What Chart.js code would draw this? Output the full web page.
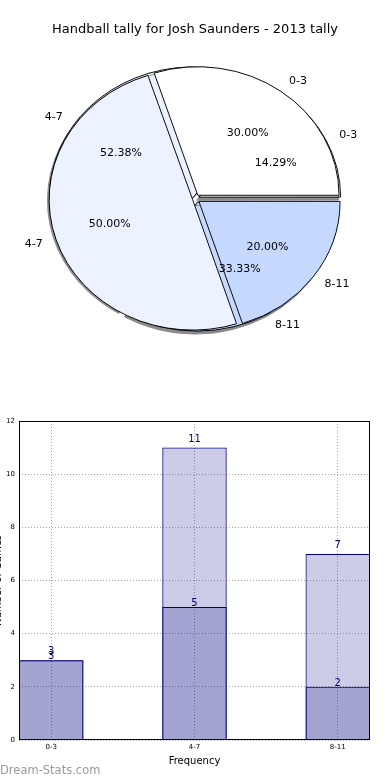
<!DOCTYPE html>
<html>
<head>
<meta charset="utf-8">
<script src="https://cdn.jsdelivr.net/npm/chart.js@4.4.1/dist/chart.umd.min.js"></script>
<style>
  html, body { margin: 0; padding: 0; background: #fff; }
  body { width: 390px; height: 780px; position: relative; overflow: hidden; }
  canvas { position: absolute; }
  #pieBack, #pieFront { left: 0; top: 0; }
  #barChart { left: -12px; top: 400px; }
</style>
</head>
<body>
<canvas id="pieBack" width="390" height="400"></canvas>
<canvas id="pieFront" width="390" height="400"></canvas>
<canvas id="barChart" width="402" height="380"></canvas>
<script>
const categories = ['0-3', '4-7', '8-11'];
const tally2013 = [3, 5, 2];      // front pie + dark bars
const allTally = [3, 11, 7];      // back pie + light bars
const yTicks = [0, 2, 4, 6, 8, 10, 12];

const pieColors = ['#ffffff', '#ecf2ff', '#c5d9ff'];
const Y_SQUISH = 0.91;   // the original pie is a little flattened
const EXPLODE = 5;       // px each wedge is pulled out
const BAR_W = 0.45;
const FONT = 'DejaVu Sans';

// draw the wedges flipped (counter-clockwise like the original) and flattened
function squish(withShadow) {
    return {
        id: 'squish',
        beforeDatasetsDraw(chart) {
            const ctx = chart.ctx;
            const arc = chart.getDatasetMeta(0).data[0];
            ctx.save();
            ctx.translate(arc.x, arc.y);
            ctx.scale(1, -Y_SQUISH);
            ctx.translate(-arc.x, -arc.y);
            if (withShadow) {
                ctx.shadowColor = '#8a8a8a';
                ctx.shadowOffsetX = -2;
                ctx.shadowOffsetY = 3;
                ctx.shadowBlur = 0;
            }
        },
        afterDatasetsDraw(chart) {
            chart.ctx.restore();
        }
    };
}

// chart.js moves an arc by offset/4 * (2 - sin(circumference)), so undo that
function explodeOffset(c) {
    const values = c.dataset.data;
    const total = values.reduce((a, b) => a + b, 0);
    const circ = values[c.dataIndex] / total * 2 * Math.PI;
    return 4 * EXPLODE / (2 - Math.sin(Math.min(Math.PI, circ)));
}

function drawPieLabels(ctx, chart) {
    const meta = chart.getDatasetMeta(0);
    const values = chart.data.datasets[0].data;
    const total = values.reduce((a, b) => a + b, 0);
    ctx.save();
    ctx.font = '11px ' + FONT;
    ctx.fillStyle = '#000';
    ctx.textBaseline = 'middle';
    meta.data.forEach((arc, i) => {
        const p = arc.getProps(['x', 'y', 'startAngle', 'endAngle', 'outerRadius'], true);
        const mid = (p.startAngle + p.endAngle) / 2;
        const at = (d) => ({
            x: p.x + Math.cos(mid) * d,
            y: p.y - Y_SQUISH * Math.sin(mid) * d
        });
        const lab = at(EXPLODE + 1.1 * p.outerRadius);
        ctx.textAlign = Math.cos(mid) >= 0 ? 'left' : 'right';
        ctx.fillText(chart.data.labels[i], lab.x, lab.y);
        const pct = at(EXPLODE + 0.6 * p.outerRadius);
        ctx.textAlign = 'center';
        ctx.fillText((values[i] / total * 100).toFixed(2) + '%', pct.x, pct.y);
    });
    ctx.restore();
}

let backChart;
const pieLabels = {
    id: 'pieLabels',
    afterDraw(chart) {
        // both pies' labels go on the front canvas so none are hidden
        drawPieLabels(chart.ctx, backChart);
        drawPieLabels(chart.ctx, chart);
    }
};

function pieConfig(values, front) {
    return {
        type: 'pie',
        data: {
            labels: categories,
            datasets: [{
                data: values,
                backgroundColor: pieColors,
                borderColor: '#000',
                borderWidth: 1,
                borderJoinStyle: 'miter',
                offset: explodeOffset,
                radius: 141,
                clip: false
            }]
        },
        options: {
            responsive: false,
            animation: false,
            events: [],
            rotation: 90,
            layout: { padding: { bottom: 40 } },
            plugins: {
                legend: { display: false },
                tooltip: { enabled: false },
                title: {
                    display: true,
                    text: 'Handball tally for Josh Saunders - 2013 tally',
                    color: front ? '#000' : 'rgba(0,0,0,0)',
                    font: { family: FONT, size: 13, weight: 'normal' },
                    padding: { top: 22, bottom: 0 }
                }
            }
        },
        plugins: front ? [squish(false), pieLabels] : [squish(true)]
    };
}

backChart = new Chart(document.getElementById('pieBack'), pieConfig(allTally, false));
new Chart(document.getElementById('pieFront'), pieConfig(tally2013, true));

// bars
const frame = {
    id: 'frame',
    afterDraw(chart) {
        const a = chart.chartArea, ctx = chart.ctx;
        ctx.save();
        ctx.strokeStyle = '#000';
        ctx.lineWidth = 1;
        ctx.strokeRect(Math.round(a.left) + 0.5, Math.round(a.top) + 0.5,
            Math.round(a.right - a.left) - 1, Math.round(a.bottom - a.top) - 1);
        ctx.restore();
    }
};

const valueLabels = {
    id: 'valueLabels',
    afterDatasetsDraw(chart) {
        const ctx = chart.ctx;
        ctx.save();
        ctx.font = '10px ' + FONT;
        ctx.fillStyle = '#000080';
        ctx.textAlign = 'center';
        ctx.textBaseline = 'middle';
        chart.data.datasets.forEach((ds, di) => {
            chart.getDatasetMeta(di).data.forEach((bar, i) => {
                ctx.fillText(String(ds.data[i].y), bar.x, bar.y - ds.labelLift);
            });
        });
        ctx.restore();
    }
};

const watermark = {
    id: 'watermark',
    afterDraw(chart) {
        const ctx = chart.ctx;
        ctx.save();
        ctx.font = '11.5px ' + FONT;
        ctx.fillStyle = '#9a9a9a';
        ctx.textAlign = 'left';
        ctx.textBaseline = 'middle';
        ctx.fillText('Dream-Stats.com', 12, 371);
        ctx.restore();
    }
};

const barStyle = {
    backgroundColor: 'rgba(0,0,128,0.2)',
    borderColor: '#000080',
    borderWidth: 1
};

const gridStyle = { color: 'rgba(0,0,0,0.35)', lineWidth: 1, drawTicks: false };
const borderStyle = { display: false, dash: [1, 2] };

new Chart(document.getElementById('barChart'), {
    type: 'bar',
    data: {
        datasets: [
            Object.assign({
                data: categories.map((c, i) => ({ x: i + BAR_W / 2, y: tally2013[i] })),
                labelLift: 3.5
            }, barStyle),
            Object.assign({
                data: categories.map((c, i) => ({ x: i + BAR_W / 2, y: allTally[i] })),
                labelLift: 8.5
            }, barStyle)
        ]
    },
    options: {
        responsive: false,
        animation: false,
        events: [],
        layout: { padding: { top: 21, right: 20, left: 0, bottom: 0 } },
        datasets: { bar: { grouped: false, categoryPercentage: 1, barPercentage: BAR_W } },
        scales: {
            x: {
                type: 'linear',
                offset: false,
                min: 0,
                max: categories.length - 1 + BAR_W,
                afterBuildTicks: s => { s.ticks = categories.map((c, i) => ({ value: i + BAR_W / 2 })); },
                afterFit: s => { s.height = 40; },
                ticks: {
                    callback: (v, i) => categories[i],
                    font: { family: FONT, size: 7 },
                    color: '#000',
                    padding: 3,
                    maxRotation: 0
                },
                grid: Object.assign({ offset: false }, gridStyle),
                border: borderStyle,
                title: {
                    display: true,
                    text: 'Frequency',
                    color: '#000',
                    font: { family: FONT, size: 10 },
                    padding: { top: 0, bottom: 13 }
                }
            },
            y: {
                min: 0,
                max: 12,
                afterBuildTicks: s => { s.ticks = yTicks.map(v => ({ value: v })); },
                afterFit: s => { s.width = 31; },
                ticks: {
                    font: { family: FONT, size: 7 },
                    color: '#000',
                    padding: 4
                },
                grid: gridStyle,
                border: borderStyle,
                title: {
                    display: true,
                    text: 'Number of Games',
                    color: '#000',
                    font: { family: FONT, size: 10 },
                    padding: { top: 4, bottom: 4 }
                }
            }
        },
        plugins: { legend: { display: false }, tooltip: { enabled: false } }
    },
    plugins: [frame, valueLabels, watermark]
});
</script>
</body>
</html>
